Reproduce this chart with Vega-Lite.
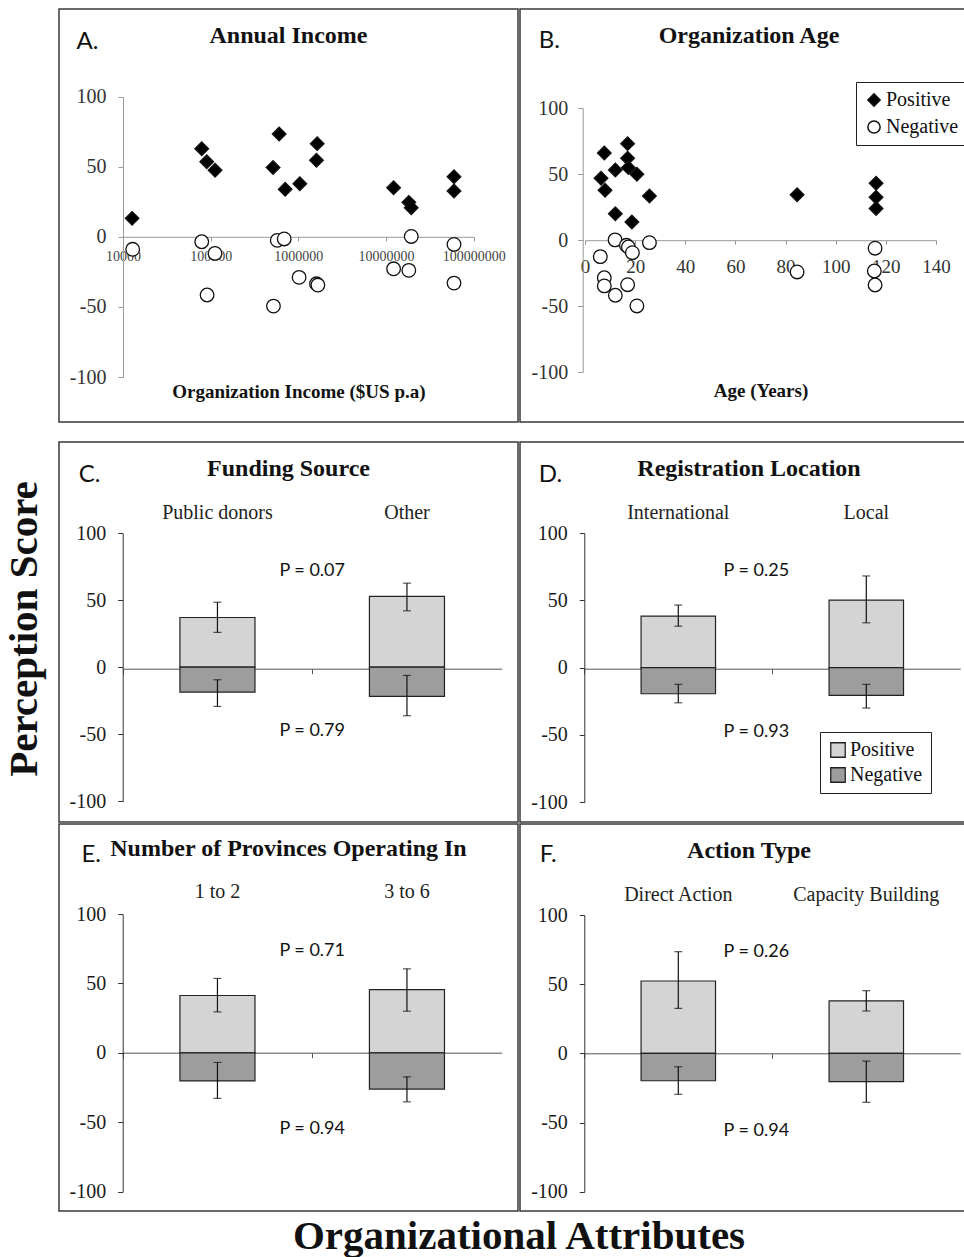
{
"$schema": "https://vega.github.io/schema/vega-lite/v6.json",
"padding": {"left": 0, "top": 8, "right": 0, "bottom": 0},
"background": "white",
"config": {
 "view": {"stroke": "#3a3a3a", "strokeWidth": 1.5},
 "concat": {"spacing": 0},
 "axis": {"grid": false, "labelFont": "Liberation Serif", "labelFontSize": 20, "labelColor": "#1a1a1a", "domainColor": "#333", "tickColor": "#333", "titleFont": "Lato", "titleFontSize": 24, "titleFontWeight": "normal", "titleColor": "#111", "labelFlush": false, "labelOverlap": false},
 "title": {"font": "Liberation Serif", "fontSize": 24, "fontWeight": "bold", "color": "#111", "anchor": "middle", "frame": "group", "baseline": "alphabetic"},
 "legend": {"labelFont": "Liberation Serif", "labelFontSize": 20, "labelColor": "#111"}
},
"datasets": {
 "income": [
  {"income": 12700, "score": 13.2, "sign": "Positive"},
  {"income": 79100, "score": 62.9, "sign": "Positive"},
  {"income": 90200, "score": 53.6, "sign": "Positive"},
  {"income": 112200, "score": 47.5, "sign": "Positive"},
  {"income": 515000, "score": 49.5, "sign": "Positive"},
  {"income": 604000, "score": 73.4, "sign": "Positive"},
  {"income": 707000, "score": 33.9, "sign": "Positive"},
  {"income": 1040000, "score": 37.9, "sign": "Positive"},
  {"income": 1640000, "score": 66.5, "sign": "Positive"},
  {"income": 1610000, "score": 54.6, "sign": "Positive"},
  {"income": 12200000, "score": 35.0, "sign": "Positive"},
  {"income": 18200000, "score": 24.6, "sign": "Positive"},
  {"income": 19400000, "score": 20.8, "sign": "Positive"},
  {"income": 59600000, "score": 42.9, "sign": "Positive"},
  {"income": 59600000, "score": 32.7, "sign": "Positive"},
  {"income": 12900, "score": -8.9, "sign": "Negative"},
  {"income": 79100, "score": -3.5, "sign": "Negative"},
  {"income": 112000, "score": -11.8, "sign": "Negative"},
  {"income": 91000, "score": -41.5, "sign": "Negative"},
  {"income": 520000, "score": -49.4, "sign": "Negative"},
  {"income": 575000, "score": -2.5, "sign": "Negative"},
  {"income": 690000, "score": -1.5, "sign": "Negative"},
  {"income": 1020000, "score": -28.9, "sign": "Negative"},
  {"income": 1610000, "score": -33.5, "sign": "Negative"},
  {"income": 1670000, "score": -34.4, "sign": "Negative"},
  {"income": 12200000, "score": -22.8, "sign": "Negative"},
  {"income": 18200000, "score": -23.9, "sign": "Negative"},
  {"income": 19400000, "score": 0.3, "sign": "Negative"},
  {"income": 59600000, "score": -5.4, "sign": "Negative"},
  {"income": 59600000, "score": -33.0, "sign": "Negative"}
 ],
 "age": [
  {"age": 6.4, "score": 47.0, "sign": "Positive"},
  {"age": 7.7, "score": 66.1, "sign": "Positive"},
  {"age": 8.0, "score": 37.8, "sign": "Positive"},
  {"age": 12.1, "score": 53.2, "sign": "Positive"},
  {"age": 12.1, "score": 20.0, "sign": "Positive"},
  {"age": 17.0, "score": 73.2, "sign": "Positive"},
  {"age": 17.0, "score": 62.1, "sign": "Positive"},
  {"age": 17.3, "score": 55.0, "sign": "Positive"},
  {"age": 20.7, "score": 50.0, "sign": "Positive"},
  {"age": 18.7, "score": 13.8, "sign": "Positive"},
  {"age": 25.7, "score": 33.5, "sign": "Positive"},
  {"age": 84.6, "score": 34.5, "sign": "Positive"},
  {"age": 116.1, "score": 43.1, "sign": "Positive"},
  {"age": 116.1, "score": 32.6, "sign": "Positive"},
  {"age": 116.1, "score": 24.0, "sign": "Positive"},
  {"age": 6.1, "score": -12.5, "sign": "Negative"},
  {"age": 7.7, "score": -28.5, "sign": "Negative"},
  {"age": 7.7, "score": -34.7, "sign": "Negative"},
  {"age": 12.0, "score": 0.2, "sign": "Negative"},
  {"age": 12.1, "score": -41.8, "sign": "Negative"},
  {"age": 16.5, "score": -3.9, "sign": "Negative"},
  {"age": 17.3, "score": -5.2, "sign": "Negative"},
  {"age": 18.9, "score": -9.5, "sign": "Negative"},
  {"age": 17.0, "score": -33.8, "sign": "Negative"},
  {"age": 20.7, "score": -49.9, "sign": "Negative"},
  {"age": 25.7, "score": -1.9, "sign": "Negative"},
  {"age": 84.6, "score": -24.1, "sign": "Negative"},
  {"age": 115.7, "score": -6.1, "sign": "Negative"},
  {"age": 115.4, "score": -23.4, "sign": "Negative"},
  {"age": 115.7, "score": -34.0, "sign": "Negative"}
 ],
 "bars": [
  {"panel": "C", "cat": "Public donors", "sign": "Positive", "value": 37.0, "lo": 25.9, "hi": 48.4},
  {"panel": "C", "cat": "Public donors", "sign": "Negative", "value": -18.6, "lo": -29.3, "hi": -9.4},
  {"panel": "C", "cat": "Other", "sign": "Positive", "value": 52.7, "lo": 42.0, "hi": 62.6},
  {"panel": "C", "cat": "Other", "sign": "Negative", "value": -21.8, "lo": -36.2, "hi": -6.2},
  {"panel": "D", "cat": "International", "sign": "Positive", "value": 38.3, "lo": 30.8, "hi": 46.5},
  {"panel": "D", "cat": "International", "sign": "Negative", "value": -19.4, "lo": -26.1, "hi": -12.4},
  {"panel": "D", "cat": "Local", "sign": "Positive", "value": 50.2, "lo": 33.3, "hi": 68.1},
  {"panel": "D", "cat": "Local", "sign": "Negative", "value": -20.6, "lo": -30.0, "hi": -12.4},
  {"panel": "E", "cat": "1 to 2", "sign": "Positive", "value": 41.3, "lo": 29.5, "hi": 53.6},
  {"panel": "E", "cat": "1 to 2", "sign": "Negative", "value": -20.2, "lo": -32.8, "hi": -6.9},
  {"panel": "E", "cat": "3 to 6", "sign": "Positive", "value": 45.6, "lo": 30.0, "hi": 60.5},
  {"panel": "E", "cat": "3 to 6", "sign": "Negative", "value": -26.1, "lo": -35.3, "hi": -17.3},
  {"panel": "F", "cat": "Direct Action", "sign": "Positive", "value": 52.3, "lo": 32.5, "hi": 73.5},
  {"panel": "F", "cat": "Direct Action", "sign": "Negative", "value": -19.8, "lo": -29.6, "hi": -9.7},
  {"panel": "F", "cat": "Capacity Building", "sign": "Positive", "value": 38.0, "lo": 30.6, "hi": 45.3},
  {"panel": "F", "cat": "Capacity Building", "sign": "Negative", "value": -20.5, "lo": -35.4, "hi": -5.6}
 ],
 "pvals": [
  {"panel": "C", "cat": "Public donors", "pos": "P = 0.07", "neg": "P = 0.79"},
  {"panel": "D", "cat": "International", "pos": "P = 0.25", "neg": "P = 0.93"},
  {"panel": "E", "cat": "1 to 2", "pos": "P = 0.71", "neg": "P = 0.94"},
  {"panel": "F", "cat": "Direct Action", "pos": "P = 0.26", "neg": "P = 0.94"}
 ],
 "labels": [
  {"which": "y", "label": "Perception Score"},
  {"which": "x", "label": "Organizational Attributes"}
 ]
},
"spacing": 0,
"resolve": {"scale": {"fill": "independent", "shape": "independent", "color": "independent", "stroke": "independent"}},
"hconcat": [
 {"width": 58, "height": 1198, "view": {"stroke": null},
  "data": {"name": "labels"}, "transform": [{"filter": "datum.which === 'y'"}],
  "mark": {"type": "text", "angle": 270, "font": "Liberation Serif", "fontWeight": "bold", "fontSize": 41, "baseline": "alphabetic", "align": "center", "xOffset": 8, "yOffset": 21, "color": "#111"},
  "encoding": {"text": {"field": "label"}}},
 {"spacing": 0,
  "resolve": {"scale": {"fill": "independent", "shape": "independent", "color": "independent", "stroke": "independent"}},
  "vconcat": [
  {"spacing": 18,
   "resolve": {"scale": {"fill": "independent", "shape": "independent", "color": "independent", "stroke": "independent"}},
   "vconcat": [
   {"spacing": 0,
    "resolve": {"scale": {"fill": "independent", "shape": "independent", "color": "independent", "stroke": "independent"}},
    "hconcat": [
    {"width": 459, "height": 413,
     "title": {"text": "Annual Income", "offset": -39},
     "data": {"name": "income"},
     "mark": {"type": "point", "filled": true, "strokeWidth": 1.3, "size": 185, "opacity": 1},
     "encoding": {
      "x": {"field": "income", "type": "quantitative",
        "scale": {"type": "log", "domain": [10000, 100000000], "range": [64, 414.7], "nice": false},
        "axis": {"offset": -185.2, "values": [10000, 100000, 1000000, 10000000, 100000000], "format": "d", "labelFontSize": 14, "labelColor": "#444", "tickSize": 4, "labelPadding": 8.5, "domainColor": "#999", "tickColor": "#999", "title": "Organization Income ($US p.a)", "titleFont": "Liberation Serif", "titleFontWeight": "bold", "titleFontSize": 19, "titleY": 161, "titleBaseline": "alphabetic"}},
      "y": {"field": "score", "type": "quantitative",
        "scale": {"domain": [-100, 100], "range": [368, 87.7], "nice": false, "zero": false},
        "axis": {"offset": -64, "values": [-100, -50, 0, 50, 100], "labelExpr": "'' + datum.value", "tickSize": 5, "labelPadding": 12, "domainColor": "#999", "tickColor": "#999", "labelColor": "#333", "title": "A.", "titleAngle": 0, "titleAlign": "left", "titleBaseline": "alphabetic", "titleX": -47, "titleY": 39}},
      "shape": {"field": "sign", "type": "nominal", "scale": {"domain": ["Positive", "Negative"], "range": ["diamond", "circle"]}, "legend": null},
      "fill": {"field": "sign", "type": "nominal", "scale": {"domain": ["Positive", "Negative"], "range": ["#000000", "#ffffff"]}, "legend": null},
      "stroke": {"field": "sign", "type": "nominal", "scale": {"domain": ["Positive", "Negative"], "range": ["#111111", "#111111"]}, "legend": null}
     }},
    {"width": 446, "height": 413,
     "title": {"text": "Organization Age", "offset": -39, "dx": 6},
     "data": {"name": "age"},
     "mark": {"type": "point", "filled": true, "strokeWidth": 1.3, "size": 185, "opacity": 1},
     "encoding": {
      "x": {"field": "age", "type": "quantitative",
        "scale": {"domain": [0, 140], "range": [65, 416], "nice": false, "zero": false},
        "axis": {"offset": -181.8, "values": [0, 20, 40, 60, 80, 100, 120, 140], "labelFontSize": 19, "labelColor": "#333", "tickSize": 4, "labelPadding": 13, "domainColor": "#999", "tickColor": "#999", "title": "Age (Years)", "titleFont": "Liberation Serif", "titleFontWeight": "bold", "titleFontSize": 19, "titleY": 155.8, "titleBaseline": "alphabetic"}},
      "y": {"field": "score", "type": "quantitative",
        "scale": {"domain": [-100, 100], "range": [363, 99.3], "nice": false, "zero": false},
        "axis": {"offset": -62.7, "values": [-100, -50, 0, 50, 100], "labelExpr": "'' + datum.value", "tickSize": 5, "labelPadding": 10, "domainColor": "#999", "tickColor": "#999", "labelColor": "#333", "title": "B.", "titleAngle": 0, "titleAlign": "left", "titleBaseline": "alphabetic", "titleX": -44.4, "titleY": 38.7}},
      "shape": {"field": "sign", "type": "nominal", "scale": {"domain": ["Positive", "Negative"], "range": ["diamond", "circle"]},
        "legend": {"orient": "none", "legendX": 336, "legendY": 73, "title": null, "symbolSize": 150, "symbolStrokeWidth": 1.5, "strokeColor": "#222", "fillColor": "white", "padding": 8, "rowPadding": 7, "labelOffset": 2}},
      "fill": {"field": "sign", "type": "nominal", "scale": {"domain": ["Positive", "Negative"], "range": ["#000000", "#ffffff"]},
        "legend": {"orient": "none", "legendX": 336, "legendY": 73, "title": null, "symbolSize": 150, "symbolStrokeWidth": 1.5, "strokeColor": "#222", "fillColor": "white", "padding": 8, "rowPadding": 7, "labelOffset": 2}},
      "stroke": {"field": "sign", "type": "nominal", "scale": {"domain": ["Positive", "Negative"], "range": ["#111111", "#111111"]},
        "legend": {"orient": "none", "legendX": 336, "legendY": 73, "title": null, "symbolSize": 150, "symbolStrokeWidth": 1.5, "strokeColor": "#222", "fillColor": "white", "padding": 8, "rowPadding": 7, "labelOffset": 2}}
     }}
   ]},
   {"spacing": 0,
    "resolve": {"scale": {"fill": "independent", "shape": "independent", "color": "independent", "stroke": "independent"}},
    "vconcat": [
    {"spacing": 0,
     "resolve": {"scale": {"fill": "independent", "shape": "independent", "color": "independent", "stroke": "independent"}},
     "hconcat": [
     {"width": 459, "height": 380,
      "title": {"text": "Funding Source", "offset": -39.3},
      "resolve": {"axis": {"x": "independent"}},
      "layer": [
       {"data": {"name": "bars"}, "transform": [{"filter": "datum.panel === 'C'"}],
        "mark": {"type": "bar", "stroke": "#222", "strokeWidth": 1.2},
        "encoding": {
         "x": {"field": "cat", "type": "nominal", "sort": null,
           "scale": {"domain": ["Public donors", "Other"], "range": [63.7, 442.7], "paddingInner": 0.604, "paddingOuter": 0.302},
           "axis": {"orient": "top", "offset": -70, "domain": false, "ticks": false, "tickSize": 0, "labelPadding": 0, "labelBaseline": "middle", "labelAngle": 0, "title": null, "labelFontSize": 20, "labelColor": "#222"}},
         "y": {"field": "value", "type": "quantitative", "title": "C.",
           "scale": {"domain": [-100, 100], "range": [359.3, 91], "nice": false, "zero": false},
           "axis": {"offset": -63.7, "values": [-100, -50, 0, 50, 100], "labelExpr": "'' + datum.value", "tickSize": 5, "labelPadding": 12, "title": "C.", "titleAngle": 0, "titleAlign": "left", "titleBaseline": "alphabetic", "titleX": -44.4, "titleY": 39.3}},
         "y2": {"datum": 0},
         "color": {"field": "sign", "type": "nominal", "scale": {"domain": ["Positive", "Negative"], "range": ["#d4d4d4", "#9d9d9d"]}, "legend": null}
        }},
       {"data": {"name": "bars"}, "transform": [{"filter": "datum.panel === 'C'"}],
        "mark": {"type": "errorbar", "ticks": {"size": 8}, "color": "#111", "thickness": 1.2},
        "encoding": {
         "x": {"field": "cat", "type": "nominal", "sort": null,
           "axis": {"orient": "bottom", "offset": -153.3, "labels": false, "title": null, "domain": true, "ticks": true, "tickSize": 5, "tickOffset": -94.75, "domainColor": "#555", "tickColor": "#555"}},
         "y": {"field": "lo", "type": "quantitative", "title": "C."},
         "y2": {"field": "hi"}
        }},
       {"data": {"name": "pvals"}, "transform": [{"filter": "datum.panel === 'C'"}],
        "mark": {"type": "text", "font": "Lato", "fontSize": 18, "color": "#111", "baseline": "middle", "align": "center"},
        "encoding": {
         "x": {"field": "cat", "type": "nominal", "sort": null, "bandPosition": 1.7626, "axis": null},
         "y": {"datum": 71.8, "type": "quantitative", "title": "C."},
         "text": {"field": "pos"}
        }},
       {"data": {"name": "pvals"}, "transform": [{"filter": "datum.panel === 'C'"}],
        "mark": {"type": "text", "font": "Lato", "fontSize": 18, "color": "#111", "baseline": "middle", "align": "center"},
        "encoding": {
         "x": {"field": "cat", "type": "nominal", "sort": null, "bandPosition": 1.7626, "axis": null},
         "y": {"datum": -47.9, "type": "quantitative", "title": "C."},
         "text": {"field": "neg"}
        }}
      ]},
     {"width": 446, "height": 380,
      "title": {"text": "Registration Location", "offset": -39.3, "dx": 6},
      "resolve": {"axis": {"x": "independent"}},
      "layer": [
       {"data": {"name": "bars"}, "transform": [{"filter": "datum.panel === 'D'"}],
        "mark": {"type": "bar", "stroke": "#222", "strokeWidth": 1.2},
        "encoding": {
         "x": {"field": "cat", "type": "nominal", "sort": null,
           "scale": {"domain": ["International", "Local"], "range": [64.3, 440.3], "paddingInner": 0.604, "paddingOuter": 0.302},
           "axis": {"orient": "top", "offset": -70, "domain": false, "ticks": false, "tickSize": 0, "labelPadding": 0, "labelBaseline": "middle", "labelAngle": 0, "title": null, "labelFontSize": 20, "labelColor": "#222"}},
         "y": {"field": "value", "type": "quantitative", "title": "D.",
           "scale": {"domain": [-100, 100], "range": [360.3, 91], "nice": false, "zero": false},
           "axis": {"offset": -64.3, "values": [-100, -50, 0, 50, 100], "labelExpr": "'' + datum.value", "tickSize": 5, "labelPadding": 12, "title": "D.", "titleAngle": 0, "titleAlign": "left", "titleBaseline": "alphabetic", "titleX": -46, "titleY": 39.3}},
         "y2": {"datum": 0},
         "color": {"field": "sign", "type": "nominal", "scale": {"domain": ["Positive", "Negative"], "range": ["#d4d4d4", "#9d9d9d"]},
           "legend": {"orient": "none", "legendX": 300, "legendY": 290, "title": null, "symbolType": "square", "symbolSize": 210, "symbolStrokeColor": "#222", "symbolStrokeWidth": 1.3, "strokeColor": "#222", "fillColor": "white", "padding": 8, "rowPadding": 5, "labelOffset": 2}}
        }},
       {"data": {"name": "bars"}, "transform": [{"filter": "datum.panel === 'D'"}],
        "mark": {"type": "errorbar", "ticks": {"size": 8}, "color": "#111", "thickness": 1.2},
        "encoding": {
         "x": {"field": "cat", "type": "nominal", "sort": null,
           "axis": {"orient": "bottom", "offset": -153.3, "labels": false, "title": null, "domain": true, "ticks": true, "tickSize": 5, "tickOffset": -94, "domainColor": "#555", "tickColor": "#555"}},
         "y": {"field": "lo", "type": "quantitative", "title": "D."},
         "y2": {"field": "hi"}
        }},
       {"data": {"name": "pvals"}, "transform": [{"filter": "datum.panel === 'D'"}],
        "mark": {"type": "text", "font": "Lato", "fontSize": 18, "color": "#111", "baseline": "middle", "align": "center", "dx": -16},
        "encoding": {
         "x": {"field": "cat", "type": "nominal", "sort": null, "bandPosition": 1.7626, "axis": null},
         "y": {"datum": 71.8, "type": "quantitative", "title": "D."},
         "text": {"field": "pos"}
        }},
       {"data": {"name": "pvals"}, "transform": [{"filter": "datum.panel === 'D'"}],
        "mark": {"type": "text", "font": "Lato", "fontSize": 18, "color": "#111", "baseline": "middle", "align": "center", "dx": -16},
        "encoding": {
         "x": {"field": "cat", "type": "nominal", "sort": null, "bandPosition": 1.7626, "axis": null},
         "y": {"datum": -47.9, "type": "quantitative", "title": "D."},
         "text": {"field": "neg"}
        }}
      ]}
    ]},
    {"spacing": 0,
     "resolve": {"scale": {"fill": "independent", "shape": "independent", "color": "independent", "stroke": "independent"}},
     "hconcat": [
     {"width": 459, "height": 387,
      "title": {"text": "Number of Provinces Operating In", "offset": -36.7},
      "resolve": {"axis": {"x": "independent"}},
      "layer": [
       {"data": {"name": "bars"}, "transform": [{"filter": "datum.panel === 'E'"}],
        "mark": {"type": "bar", "stroke": "#222", "strokeWidth": 1.2},
        "encoding": {
         "x": {"field": "cat", "type": "nominal", "sort": null,
           "scale": {"domain": ["1 to 2", "3 to 6"], "range": [63.7, 442.7], "paddingInner": 0.604, "paddingOuter": 0.302},
           "axis": {"orient": "top", "offset": -67, "domain": false, "ticks": false, "tickSize": 0, "labelPadding": 0, "labelBaseline": "middle", "labelAngle": 0, "title": null, "labelFontSize": 20, "labelColor": "#222"}},
         "y": {"field": "value", "type": "quantitative", "title": "E.",
           "scale": {"domain": [-100, 100], "range": [367.7, 90], "nice": false, "zero": false},
           "axis": {"offset": -63.7, "values": [-100, -50, 0, 50, 100], "labelExpr": "'' + datum.value", "tickSize": 5, "labelPadding": 12, "title": "E.", "titleAngle": 0, "titleAlign": "left", "titleBaseline": "alphabetic", "titleX": -41.7, "titleY": 37.7}},
         "y2": {"datum": 0},
         "color": {"field": "sign", "type": "nominal", "scale": {"domain": ["Positive", "Negative"], "range": ["#d4d4d4", "#9d9d9d"]}, "legend": null}
        }},
       {"data": {"name": "bars"}, "transform": [{"filter": "datum.panel === 'E'"}],
        "mark": {"type": "errorbar", "ticks": {"size": 8}, "color": "#111", "thickness": 1.2},
        "encoding": {
         "x": {"field": "cat", "type": "nominal", "sort": null,
           "axis": {"orient": "bottom", "offset": -158.3, "labels": false, "title": null, "domain": true, "ticks": true, "tickSize": 5, "tickOffset": -94.75, "domainColor": "#555", "tickColor": "#555"}},
         "y": {"field": "lo", "type": "quantitative", "title": "E."},
         "y2": {"field": "hi"}
        }},
       {"data": {"name": "pvals"}, "transform": [{"filter": "datum.panel === 'E'"}],
        "mark": {"type": "text", "font": "Lato", "fontSize": 18, "color": "#111", "baseline": "middle", "align": "center"},
        "encoding": {
         "x": {"field": "cat", "type": "nominal", "sort": null, "bandPosition": 1.7626, "axis": null},
         "y": {"datum": 73.2, "type": "quantitative", "title": "E."},
         "text": {"field": "pos"}
        }},
       {"data": {"name": "pvals"}, "transform": [{"filter": "datum.panel === 'E'"}],
        "mark": {"type": "text", "font": "Lato", "fontSize": 18, "color": "#111", "baseline": "middle", "align": "center"},
        "encoding": {
         "x": {"field": "cat", "type": "nominal", "sort": null, "bandPosition": 1.7626, "axis": null},
         "y": {"datum": -55.2, "type": "quantitative", "title": "E."},
         "text": {"field": "neg"}
        }}
      ]},
     {"width": 446, "height": 387,
      "title": {"text": "Action Type", "offset": -38.7, "dx": 6},
      "resolve": {"axis": {"x": "independent"}},
      "layer": [
       {"data": {"name": "bars"}, "transform": [{"filter": "datum.panel === 'F'"}],
        "mark": {"type": "bar", "stroke": "#222", "strokeWidth": 1.2},
        "encoding": {
         "x": {"field": "cat", "type": "nominal", "sort": null,
           "scale": {"domain": ["Direct Action", "Capacity Building"], "range": [64.3, 440.3], "paddingInner": 0.604, "paddingOuter": 0.302},
           "axis": {"orient": "top", "offset": -70, "domain": false, "ticks": false, "tickSize": 0, "labelPadding": 0, "labelBaseline": "middle", "labelAngle": 0, "title": null, "labelFontSize": 20, "labelColor": "#222"}},
         "y": {"field": "value", "type": "quantitative", "title": "F.",
           "scale": {"domain": [-100, 100], "range": [367.7, 91], "nice": false, "zero": false},
           "axis": {"offset": -64.3, "values": [-100, -50, 0, 50, 100], "labelExpr": "'' + datum.value", "tickSize": 5, "labelPadding": 12, "title": "F.", "titleAngle": 0, "titleAlign": "left", "titleBaseline": "alphabetic", "titleX": -45, "titleY": 37.7}},
         "y2": {"datum": 0},
         "color": {"field": "sign", "type": "nominal", "scale": {"domain": ["Positive", "Negative"], "range": ["#d4d4d4", "#9d9d9d"]}, "legend": null}
        }},
       {"data": {"name": "bars"}, "transform": [{"filter": "datum.panel === 'F'"}],
        "mark": {"type": "errorbar", "ticks": {"size": 8}, "color": "#111", "thickness": 1.2},
        "encoding": {
         "x": {"field": "cat", "type": "nominal", "sort": null,
           "axis": {"orient": "bottom", "offset": -157.7, "labels": false, "title": null, "domain": true, "ticks": true, "tickSize": 5, "tickOffset": -94, "domainColor": "#555", "tickColor": "#555"}},
         "y": {"field": "lo", "type": "quantitative", "title": "F."},
         "y2": {"field": "hi"}
        }},
       {"data": {"name": "pvals"}, "transform": [{"filter": "datum.panel === 'F'"}],
        "mark": {"type": "text", "font": "Lato", "fontSize": 18, "color": "#111", "baseline": "middle", "align": "center", "dx": -16},
        "encoding": {
         "x": {"field": "cat", "type": "nominal", "sort": null, "bandPosition": 1.7626, "axis": null},
         "y": {"datum": 73.5, "type": "quantitative", "title": "F."},
         "text": {"field": "pos"}
        }},
       {"data": {"name": "pvals"}, "transform": [{"filter": "datum.panel === 'F'"}],
        "mark": {"type": "text", "font": "Lato", "fontSize": 18, "color": "#111", "baseline": "middle", "align": "center", "dx": -16},
        "encoding": {
         "x": {"field": "cat", "type": "nominal", "sort": null, "bandPosition": 1.7626, "axis": null},
         "y": {"datum": -56.2, "type": "quantitative", "title": "F."},
         "text": {"field": "neg"}
        }}
      ]}
    ]}
   ]}
  ]},
  {"width": 905, "height": 51, "view": {"stroke": null},
   "data": {"name": "labels"}, "transform": [{"filter": "datum.which === 'x'"}],
   "mark": {"type": "text", "font": "Liberation Serif", "fontWeight": "bold", "fontSize": 41, "baseline": "alphabetic", "align": "center", "xOffset": 7.5, "yOffset": 11.5, "color": "#111"},
   "encoding": {"text": {"field": "label"}}}
 ]}
]
}
